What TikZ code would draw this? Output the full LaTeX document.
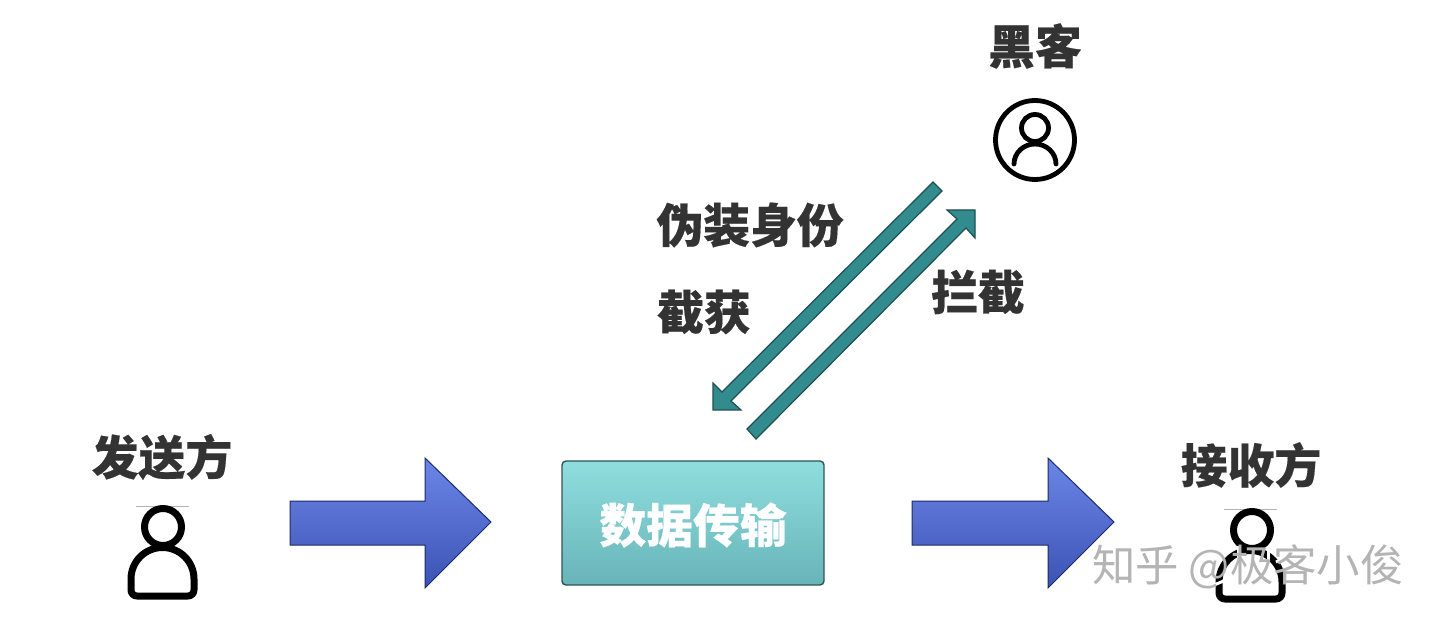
\documentclass[tikz,border=0pt]{standalone}
\usepackage{fontspec}
\setmainfont{Noto Sans CJK SC}[BoldFeatures={FakeBold=0.35}]
\definecolor{inkc}{HTML}{333333}
\definecolor{tealc}{HTML}{328C8E}
\definecolor{tealb}{HTML}{1F4F52}
\definecolor{boxtop}{HTML}{8FDEDD}
\definecolor{boxbot}{HTML}{68B4B9}
\definecolor{boxline}{HTML}{2E5558}
\definecolor{bluetop}{HTML}{6C86E8}
\definecolor{bluebot}{HTML}{3B53B3}
\definecolor{blueline}{HTML}{1C2B66}
\definecolor{wmgray}{HTML}{B4B4B4}
\tikzset{
  lbl/.style={font=\fontsize{23.4pt}{27pt}\selectfont\bfseries, text=inkc, inner sep=0pt},
  bigarrow/.style={draw=blueline, line width=0.5pt, top color=bluetop, bottom color=bluebot},
  thinarrow/.style={draw=tealb, line width=0.6pt, fill=tealc, line join=miter},
  icon/.style={draw=black, line width=3.5pt, line join=round},
  iconthin/.style={draw=black, line width=2.4pt, line cap=round},
  hair/.style={draw=black!30, line width=0.3pt},
  wm/.style={font=\fontsize{21.7pt}{26pt}\selectfont, inner sep=0pt},
  erase/.style={draw=white, line width=1.5pt}
}
\begin{document}
\begin{tikzpicture}[x=0.5pt,y=-0.5pt]
\useasboundingbox (0,0) rectangle (1440,625);
\fill[white] (0,0) rectangle (1440,625);
% labels
\node[lbl] (hacker) at (1035,46) {黑客};
\node[lbl] (fake) at (750,225) {伪装身份};
\node[lbl] (cap) at (704,312) {截获};
\node[lbl] (block) at (978,292) {拦截};
\node[lbl] (sender) at (162,457) {发送方};
\node[lbl] (receiver) at (1251,465) {接收方};
% centre box
\node[draw=boxline, line width=0.7pt, rounded corners=2pt, top color=boxtop, bottom color=boxbot,
      minimum width=131pt, minimum height=62pt, inner sep=0pt] (data) at (693,523) {};
\node[lbl, text=white] (datat) at (693,525) {数据传输};
% big arrows
\draw[bigarrow] (290,501) -- (425,501) -- (425,458) -- (491,522) -- (425,588) -- (425,545) -- (290,545) -- cycle;
\draw[bigarrow] (912,501) -- (1048,501) -- (1048,458) -- (1114,522) -- (1048,588) -- (1048,545) -- (912,545) -- cycle;
% teal arrows
\draw[thinarrow] (933,182) -- (942,191) -- (731,401) -- (741,410) -- (713,410) -- (713,383) -- (722,392) -- cycle;
\draw[thinarrow] (747,429) -- (756,439) -- (966,228) -- (975,238) -- (975,210) -- (947,210) -- (957,219) -- cycle;
% sender icon
\draw[hair] (136,506) -- (189,506);
\draw[icon] (163,527) circle (18.5);
\draw[icon] (137,596) -- (188,596) arc (90:0:6) -- (194,579) arc (0:-180:31.5) -- (131,590) arc (180:90:6) -- cycle;
% hacker icon
\draw[iconthin] (1035,140) circle (39.5);
\draw[iconthin] (1035,128) circle (13.5);
\draw[iconthin] (1014,164) arc (180:360:21 and 20);
% receiver icon
\draw[hair] (1224,509) -- (1277,509);
\draw[icon] (1252,530) circle (18.5);
\draw[icon] (1226,599) -- (1276,599) arc (90:0:6) -- (1282,582) arc (0:-180:31.5) -- (1219,593) arc (180:90:6) -- cycle;
% watermark, with the white halo it cuts through the icon
\draw[erase] (1238,546) -- (1238,560);
\draw[erase] (1268,548) -- (1268,560);
\draw[erase] (1276,562) -- (1290,556);
\draw[erase] (1214,585) -- (1226,580);
\draw[erase] (1252,560) -- (1252,590);
\node[wm, text=wmgray] (wmt) at (1248,567) {知乎 @极客小俊};
\end{tikzpicture}
\end{document}
